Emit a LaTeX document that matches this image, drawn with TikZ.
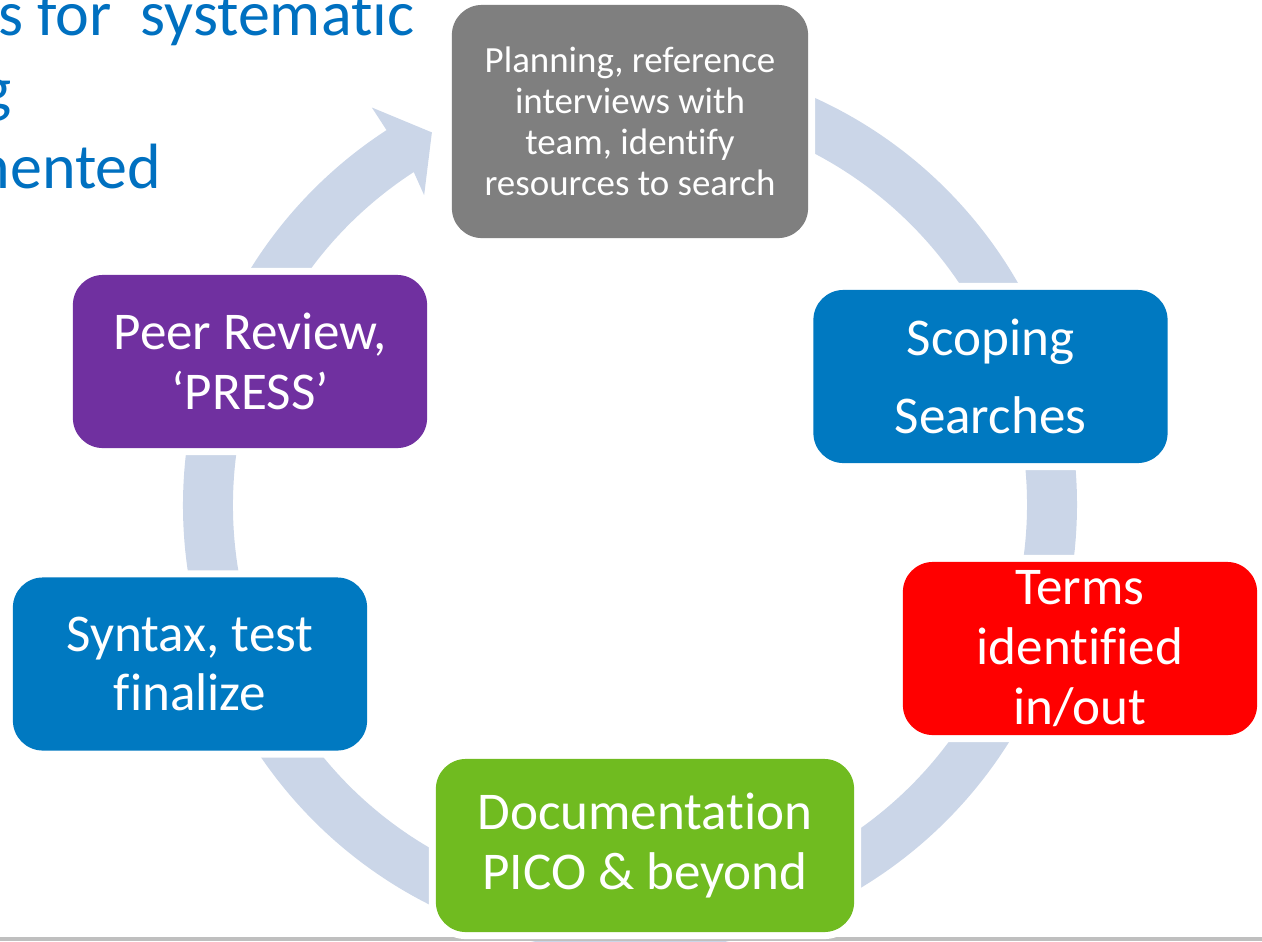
\documentclass[tikz,border=0pt]{standalone}
\usepackage{fontspec}
\setmainfont{Carlito}[Ligatures={TeX,CommonOff}]
\usetikzlibrary{positioning}
\usepackage{xcolor}
\definecolor{ring}{RGB}{203,214,232}
\definecolor{plangray}{RGB}{127,127,127}
\definecolor{scopeblue}{RGB}{0,121,193}
\definecolor{termsred}{RGB}{255,0,0}
\definecolor{docgreen}{RGB}{112,187,32}
\definecolor{peerpurple}{RGB}{112,48,160}
\definecolor{titleblue}{RGB}{0,112,192}
\definecolor{rulegray}{RGB}{191,191,191}

\begin{document}
\begin{tikzpicture}[x=0.01cm, y=-0.01cm,
    block/.style={text=white, align=center, inner sep=0pt,
        minimum width=3.54cm, minimum height=1.73cm, rounded corners=0.3cm,
        preaction={draw=white, line width=4pt},
        font=\fontsize{15.1}{17}\selectfont},
    ttl/.style={anchor=base east, text=titleblue, inner sep=0pt,
        font=\fontsize{18.2}{21.8}\selectfont}]
    \useasboundingbox (0,0) rectangle (1262,941);
    \begin{scope}
    \clip (0,0) rectangle (1262,941);

    % cut-off slide title
    \draw node[ttl] (ttla) at (415,35) {s for\ \ systematic};
    \draw node[ttl] (ttlb) at (12,110) {g};
    \draw node[ttl] (ttlc) at (162,188) {nented};

    % cycle ring with its arrow head
    \begin{scope}[shift={(630,505)}]
    \fill[ring] (-85:447) arc[start angle=-85, end angle=237, radius=447]
        -- (237:474) -- (242:422) -- (236.4:372) -- (237:397)
        arc[start angle=237, end angle=-85, radius=397] -- cycle;
    \end{scope}

    \draw[rulegray, line width=1.1pt] (0,939) -- (1262,939);

    \draw node[block, fill=plangray, minimum width=3.56cm, minimum height=2.33cm,
        font=\fontsize{10.5}{11.7}\selectfont] (plan) at (630,121.5)
        {Planning, reference\\interviews with\\team, identify\\resources to search};
    \draw node[block, fill=scopeblue, font=\fontsize{15.1}{22.3}\selectfont]
        (scope) at (990.5,376.5) {Scoping\\Searches};
    \draw node[block, fill=termsred] (terms) at (1080,648.5) {Terms\\identified\\in/out};
    \draw node[block, fill=docgreen, minimum width=4.18cm] (docu) at (645,845.5)
        {Documentation\\PICO \& beyond};
    \draw node[block, fill=scopeblue] (synt) at (190,664) {Syntax, test\\finalize};
    \draw node[block, fill=peerpurple] (peer) at (250,361.5) {Peer Review,\\‘PRESS’};
    \end{scope}
\end{tikzpicture}
\end{document}
